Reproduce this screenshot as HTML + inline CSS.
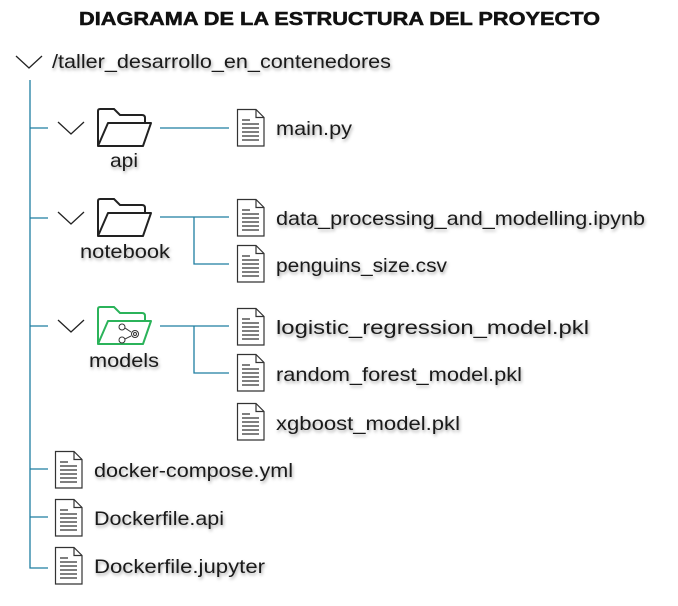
<!DOCTYPE html>
<html><head><meta charset="utf-8"><style>
html,body{margin:0;padding:0;background:#fff;}
svg{display:block}
text{font-family:"Liberation Sans",sans-serif;fill:#1a1a1a;}
.t{font-size:19.5px;filter:drop-shadow(1px 2px 1.5px rgba(0,0,0,0.35));}
</style></head><body>
<svg width="678" height="606" viewBox="0 0 678 606" xmlns="http://www.w3.org/2000/svg">
<defs>
<g id="file">
<path d="M0.5,0.5 H19 L27,8.5 V37 H0.5 Z" fill="#fff" stroke="#333" stroke-width="1.2"/>
<path d="M19,0.5 V8.5 H27" fill="none" stroke="#333" stroke-width="1.2"/>
<path d="M5,11 h8 M5,15 h17 M5,19 h17 M5,23 h17 M5,27 h17 M5,31 h17" stroke="#333" stroke-width="1.3"/>
</g>
<g id="folder">
<path d="M1,38 V3 Q1,1 3,1 H17 L23,7 H45 Q48,7 48,10 V14" fill="none" stroke-width="2"/>
<path d="M1,38 L11,15 H54 L46,38 Z" fill="#fff" stroke-width="2" stroke-linejoin="round"/>
</g>
<path id="chev" d="M0,0 L13,12 L26,0" fill="none" stroke="#222" stroke-width="1.3"/>
</defs>

<text x="79" y="25" textLength="521" lengthAdjust="spacingAndGlyphs" style="font-size:18px;font-weight:bold;fill:#111;stroke:#111;stroke-width:0.5">DIAGRAMA DE LA ESTRUCTURA DEL PROYECTO</text>

<use href="#chev" x="16" y="56"/>
<text class="t" x="52" y="68" textLength="339" lengthAdjust="spacingAndGlyphs">/taller_desarrollo_en_contenedores</text>

<g stroke="#1e7ea1" stroke-width="1.3" fill="none">
<path d="M30,80 V568 H48"/>
<path d="M30,128 H48 M30,218 H48 M30,326 H48 M30,469 H48 M30,517 H48"/>
<path d="M160,128 H229"/>
<path d="M160,217 H229 M194,217 V264 H229"/>
<path d="M160,326 H229 M194,326 V373 H229"/>
</g>

<use href="#chev" x="58" y="122"/>
<use href="#chev" x="58" y="212"/>
<use href="#chev" x="58" y="320"/>

<g stroke="#222"><use href="#folder" x="97" y="108"/></g>
<g stroke="#222"><use href="#folder" x="97" y="198"/></g>
<g stroke="#2bb35a"><use href="#folder" x="97" y="306"/></g>
<g stroke="#333" stroke-width="1" fill="none">
<circle cx="122" cy="327" r="3"/><circle cx="122" cy="340" r="3"/><circle cx="135" cy="334" r="3.5"/><circle cx="135" cy="334" r="1.5"/>
<path d="M125,328 L131,332 M125,339 L131,336"/>
</g>

<text class="t" x="110" y="167" textLength="28" lengthAdjust="spacingAndGlyphs">api</text>
<text class="t" x="80" y="258" textLength="90" lengthAdjust="spacingAndGlyphs">notebook</text>
<text class="t" x="89" y="367" textLength="70" lengthAdjust="spacingAndGlyphs">models</text>

<use href="#file" x="237" y="109"/><text class="t" x="276" y="135" textLength="76" lengthAdjust="spacingAndGlyphs">main.py</text>
<use href="#file" x="237" y="199"/><text class="t" x="276" y="225" textLength="369" lengthAdjust="spacingAndGlyphs">data_processing_and_modelling.ipynb</text>
<use href="#file" x="237" y="245"/><text class="t" x="276" y="272" textLength="171" lengthAdjust="spacingAndGlyphs">penguins_size.csv</text>
<use href="#file" x="237" y="308"/><text class="t" x="276" y="334" textLength="313" lengthAdjust="spacingAndGlyphs">logistic_regression_model.pkl</text>
<use href="#file" x="237" y="354"/><text class="t" x="276" y="381" textLength="246" lengthAdjust="spacingAndGlyphs">random_forest_model.pkl</text>
<use href="#file" x="237" y="403"/><text class="t" x="276" y="430" textLength="184" lengthAdjust="spacingAndGlyphs">xgboost_model.pkl</text>

<use href="#file" x="55" y="451"/><text class="t" x="94" y="477" textLength="199" lengthAdjust="spacingAndGlyphs">docker-compose.yml</text>
<use href="#file" x="55" y="499"/><text class="t" x="94" y="525" textLength="130" lengthAdjust="spacingAndGlyphs">Dockerfile.api</text>
<use href="#file" x="55" y="547"/><text class="t" x="94" y="573" textLength="171" lengthAdjust="spacingAndGlyphs">Dockerfile.jupyter</text>
</svg>
</body></html>
